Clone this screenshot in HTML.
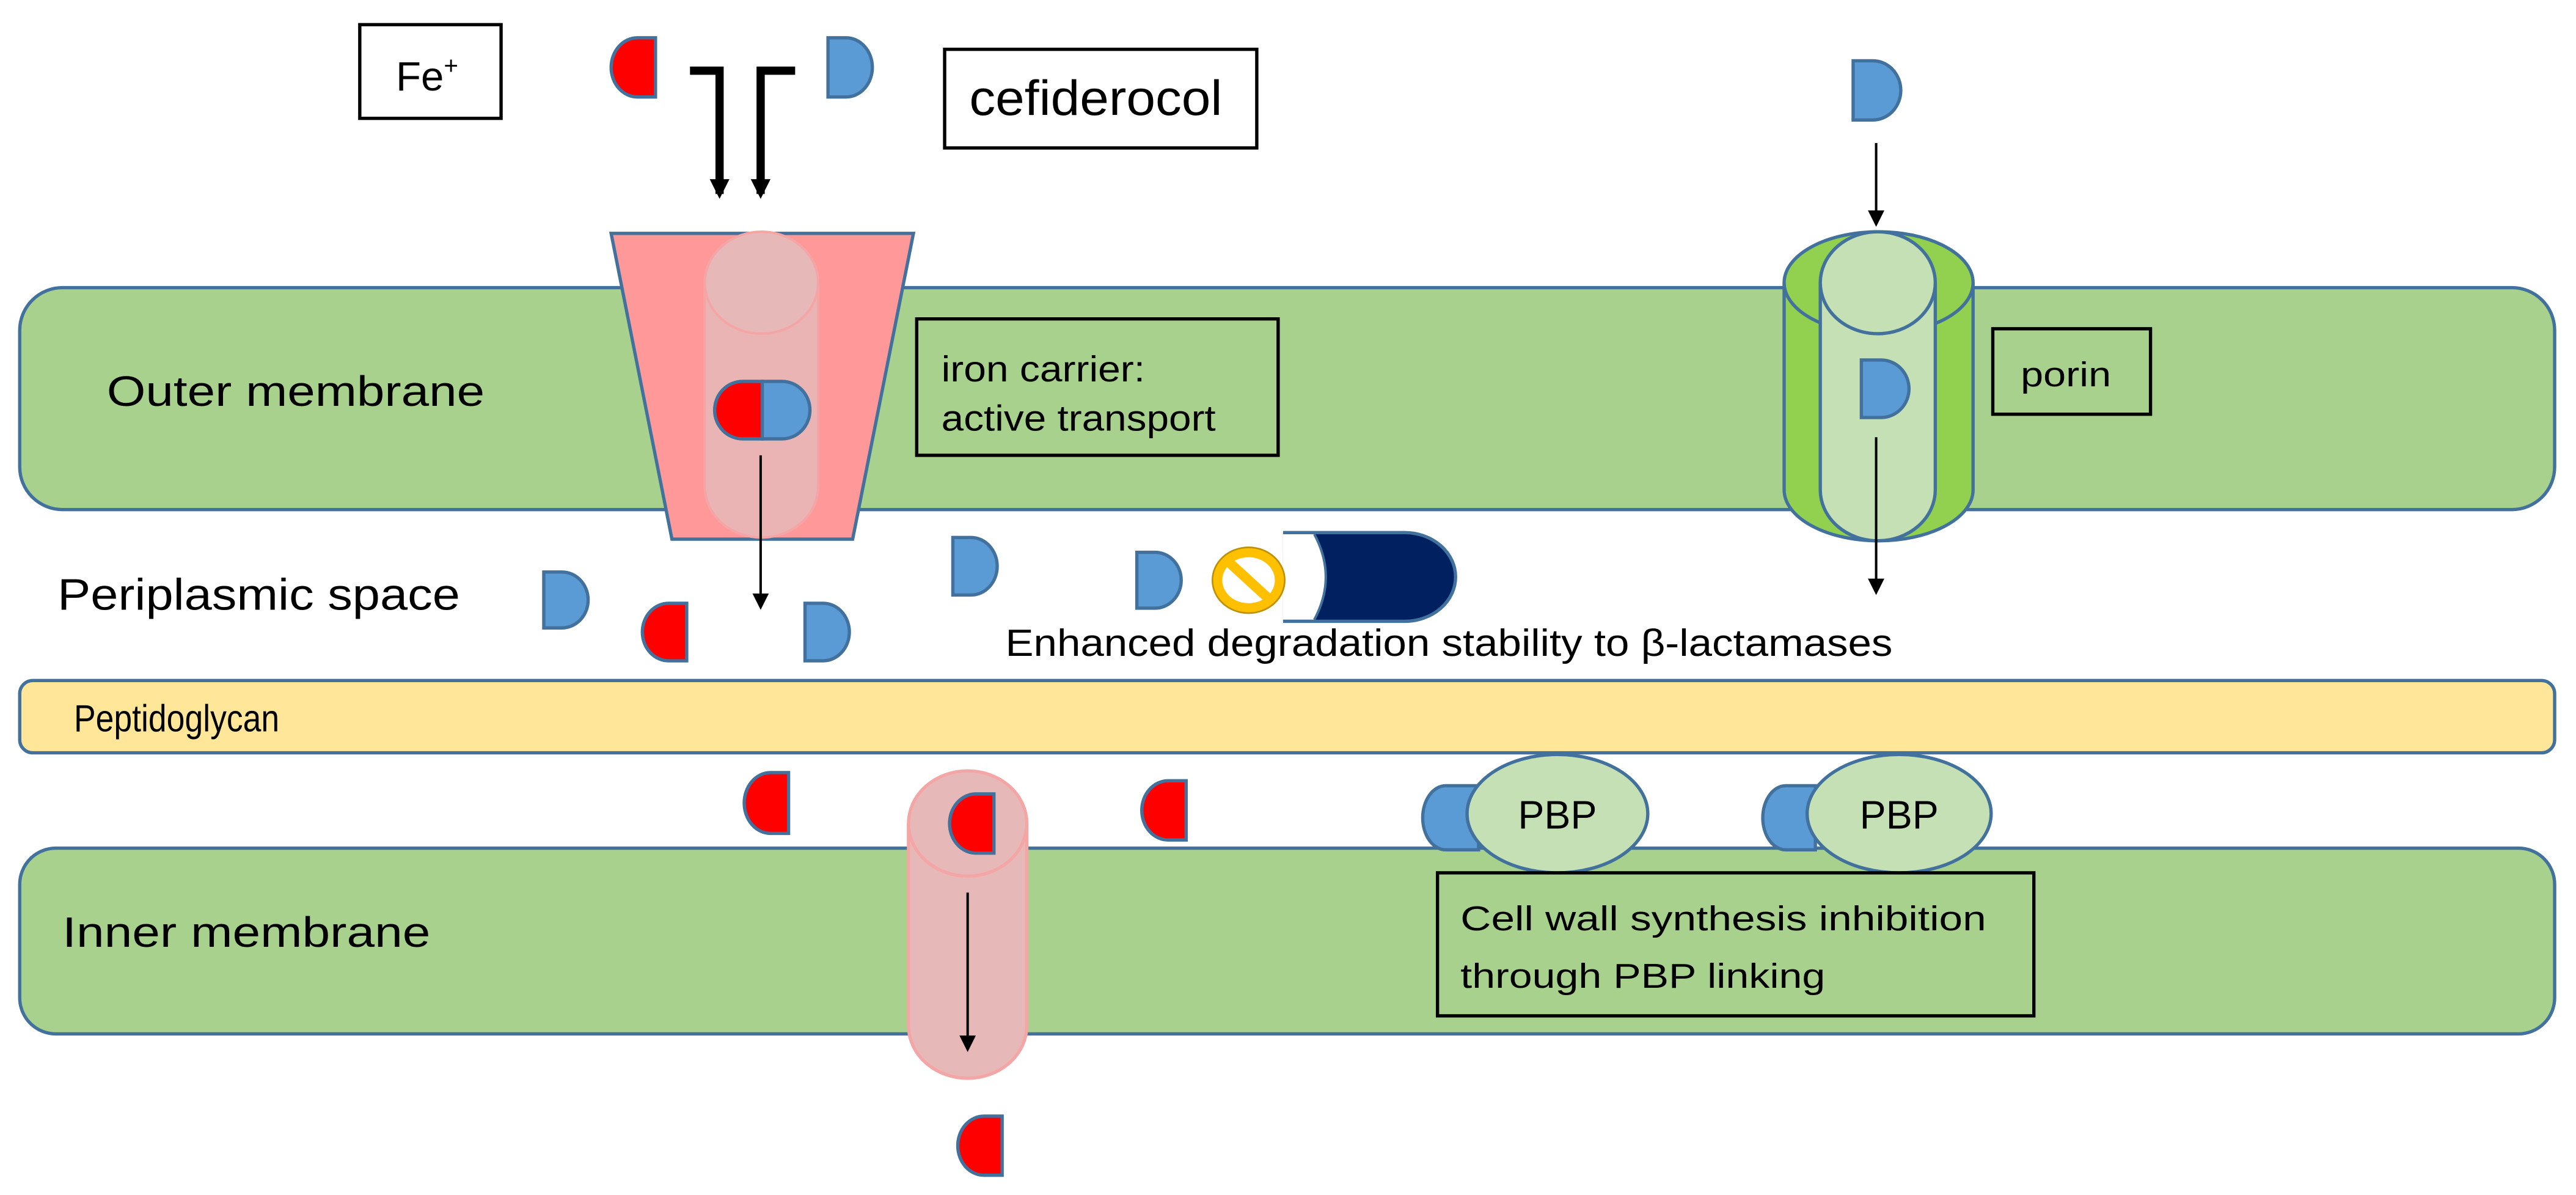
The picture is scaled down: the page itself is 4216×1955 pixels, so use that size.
<!DOCTYPE html>
<html><head><meta charset="utf-8"><style>
html,body{margin:0;padding:0;background:#fff}
svg{display:block}
text{font-family:"Liberation Sans",sans-serif;fill:#000}
</style></head><body>
<svg width="4216" height="1955" viewBox="0 0 1568 727" preserveAspectRatio="none" xmlns="http://www.w3.org/2000/svg">
<defs>
<marker id="ah" markerWidth="10" markerHeight="10" refX="8" refY="5" orient="auto" markerUnits="userSpaceOnUse"><path d="M0,0 L10,5 L0,10 Z" fill="#000"/></marker>
<marker id="ahb" markerWidth="12" markerHeight="12" refX="9" refY="6" orient="auto" markerUnits="userSpaceOnUse"><path d="M0,0 L12,6 L0,12 Z" fill="#000"/></marker>
</defs>
<!-- membranes -->
<rect x="12" y="175" width="1543" height="135" rx="26" fill="#A9D18E" stroke="#41719C" stroke-width="2"/>
<rect x="12" y="414" width="1543" height="44" rx="8" fill="#FFE699" stroke="#41719C" stroke-width="2"/>
<rect x="12" y="516" width="1543" height="113" rx="22" fill="#A9D18E" stroke="#41719C" stroke-width="2"/>
<text x="65" y="247" font-size="26" textLength="230" lengthAdjust="spacingAndGlyphs">Outer membrane</text>
<text x="35" y="371" font-size="27" textLength="245" lengthAdjust="spacingAndGlyphs">Periplasmic space</text>
<text x="45" y="445" font-size="23" textLength="125" lengthAdjust="spacingAndGlyphs">Peptidoglycan</text>
<text x="38" y="576" font-size="26" textLength="224" lengthAdjust="spacingAndGlyphs">Inner membrane</text>
<!-- top boxes -->
<rect x="219" y="15" width="86" height="57" fill="#fff" stroke="#000" stroke-width="2"/>
<text x="241" y="55" font-size="25">Fe<tspan font-size="15" dy="-10">+</tspan></text>
<rect x="575" y="30" width="190" height="60" fill="#fff" stroke="#000" stroke-width="2"/>
<text x="590" y="70" font-size="30" textLength="154" lengthAdjust="spacingAndGlyphs">cefiderocol</text>
<!-- top molecules -->
<path d="M399,23 H388 A16,18 0 0 0 388,59 H399 Z" fill="#FF0000" stroke="#41719C" stroke-width="2"/>
<path d="M504,23 H515 A16,18 0 0 1 515,59 H504 Z" fill="#5B9BD5" stroke="#41719C" stroke-width="2"/>
<!-- bent arrows -->
<path d="M420,43 H438 V118" fill="none" stroke="#000" stroke-width="5" marker-end="url(#ahb)"/>
<path d="M484,43 H463 V118" fill="none" stroke="#000" stroke-width="5" marker-end="url(#ahb)"/>
<!-- iron transporter -->
<path d="M372,142 H556 L519,328 H409 Z" fill="#FF9999" stroke="#41719C" stroke-width="2"/>
<path d="M429,172 V296 A34.5,31 0 0 0 498,296 V172" fill="#E6B9B8" fill-opacity="0.85" stroke="#F4A6A6" stroke-width="1.5"/>
<ellipse cx="463.5" cy="172" rx="34.5" ry="31" fill="#E6B9B8" stroke="#F4A6A6" stroke-width="1.5"/>
<path d="M464,232 H452 A17,17.5 0 0 0 452,267 H464 Z" fill="#FF0000" stroke="#41719C" stroke-width="2"/>
<path d="M464,232 H476 A17,17.5 0 0 1 476,267 H464 Z" fill="#5B9BD5" stroke="#41719C" stroke-width="2"/>
<line x1="463" y1="277" x2="463" y2="369" stroke="#000" stroke-width="1.5" marker-end="url(#ah)"/>
<rect x="558" y="194" width="220" height="83" fill="none" stroke="#000" stroke-width="2"/>
<text x="573" y="232" font-size="22" textLength="124" lengthAdjust="spacingAndGlyphs">iron carrier:</text>
<text x="573" y="262" font-size="22" textLength="167" lengthAdjust="spacingAndGlyphs">active transport</text>
<!-- porin -->
<path d="M1128,37 H1140 A17,18 0 0 1 1140,73 H1128 Z" fill="#5B9BD5" stroke="#41719C" stroke-width="2"/>
<line x1="1142" y1="87" x2="1142" y2="136" stroke="#000" stroke-width="1.5" marker-end="url(#ah)"/>
<path d="M1086,172 V298 A57.5,31 0 0 0 1201,298 V172" fill="#92D050" stroke="#41719C" stroke-width="2"/>
<ellipse cx="1143.5" cy="172" rx="57.5" ry="31" fill="#92D050" stroke="#41719C" stroke-width="2"/>
<path d="M1108,172 V298 A35,31 0 0 0 1178,298 V172" fill="#C5E0B4" stroke="#41719C" stroke-width="2"/>
<ellipse cx="1143" cy="172" rx="35" ry="31" fill="#C5E0B4" stroke="#41719C" stroke-width="2"/>
<path d="M1133,219 H1145 A17,17.5 0 0 1 1145,254 H1133 Z" fill="#5B9BD5" stroke="#41719C" stroke-width="2"/>
<line x1="1142" y1="266" x2="1142" y2="360" stroke="#000" stroke-width="1.5" marker-end="url(#ah)"/>
<rect x="1213" y="200" width="96" height="52" fill="none" stroke="#000" stroke-width="2"/>
<text x="1230" y="235" font-size="21" textLength="55" lengthAdjust="spacingAndGlyphs">porin</text>
<!-- periplasmic molecules -->
<path d="M331,348 H342 A16,17 0 0 1 342,382 H331 Z" fill="#5B9BD5" stroke="#41719C" stroke-width="2"/>
<path d="M418,367 H407 A16,17.5 0 0 0 407,402 H418 Z" fill="#FF0000" stroke="#41719C" stroke-width="2"/>
<path d="M490,367 H501 A16,17.5 0 0 1 501,402 H490 Z" fill="#5B9BD5" stroke="#41719C" stroke-width="2"/>
<path d="M580,327 H591 A16,17.5 0 0 1 591,362 H580 Z" fill="#5B9BD5" stroke="#41719C" stroke-width="2"/>
<path d="M692,336 H703 A16,17 0 0 1 703,370 H692 Z" fill="#5B9BD5" stroke="#41719C" stroke-width="2"/>
<!-- beta-lactamase -->
<path d="M781,324 H855 A31,27 0 0 1 855,378 H781" fill="#002060" stroke="#41719C" stroke-width="2"/>
<path d="M781,325 H800 Q814,351 800,377 H781 Z" fill="#fff"/>
<path d="M800,325 Q814,351 800,377" fill="none" stroke="#41719C" stroke-width="1.5"/>
<!-- stop icon -->
<ellipse cx="760" cy="353" rx="19" ry="17" fill="none" stroke="#FFC000" stroke-width="6"/>
<ellipse cx="760" cy="353" rx="22" ry="20" fill="none" stroke="#BF9000" stroke-width="1"/>
<line x1="748" y1="342" x2="772" y2="364" stroke="#FFC000" stroke-width="6"/>
<text x="612" y="399" font-size="23" textLength="540" lengthAdjust="spacingAndGlyphs">Enhanced degradation stability to β-lactamases</text>
<!-- below peptidoglycan -->
<path d="M480,470 H469 A16,18.5 0 0 0 469,507 H480 Z" fill="#FF0000" stroke="#41719C" stroke-width="2"/>
<path d="M722,475 H711 A16,18 0 0 0 711,511 H722 Z" fill="#FF0000" stroke="#41719C" stroke-width="2"/>
<path d="M553,501 V624 A36,32 0 0 0 625,624 V501" fill="#E6B9B8" stroke="#F4A6A6" stroke-width="2"/>
<ellipse cx="589" cy="501" rx="36" ry="32" fill="#E6B9B8" stroke="#F4A6A6" stroke-width="2"/>
<path d="M605,483 H594 A16,18 0 0 0 594,519 H605 Z" fill="#FF0000" stroke="#41719C" stroke-width="2"/>
<line x1="589" y1="543" x2="589" y2="638" stroke="#000" stroke-width="1.5" marker-end="url(#ah)"/>
<path d="M610,679 H599 A16,18 0 0 0 599,715 H610 Z" fill="#FF0000" stroke="#41719C" stroke-width="2"/>
<!-- PBPs -->
<path d="M900,478 H880 A14,19.5 0 0 0 880,517 H900 Z" fill="#5B9BD5" stroke="#41719C" stroke-width="2"/>
<ellipse cx="948" cy="495" rx="55" ry="36" fill="#C5E0B4" stroke="#41719C" stroke-width="2"/>
<text x="948" y="504" font-size="24" text-anchor="middle">PBP</text>
<path d="M1105,478 H1087 A14,19.5 0 0 0 1087,517 H1105 Z" fill="#5B9BD5" stroke="#41719C" stroke-width="2"/>
<ellipse cx="1156" cy="495" rx="56" ry="36" fill="#C5E0B4" stroke="#41719C" stroke-width="2"/>
<text x="1156" y="504" font-size="24" text-anchor="middle">PBP</text>
<rect x="875" y="531" width="363" height="87" fill="none" stroke="#000" stroke-width="2"/>
<text x="889" y="566" font-size="21" textLength="320" lengthAdjust="spacingAndGlyphs">Cell wall synthesis inhibition</text>
<text x="889" y="601" font-size="21" textLength="222" lengthAdjust="spacingAndGlyphs">through PBP linking</text>
</svg>
</body></html>
